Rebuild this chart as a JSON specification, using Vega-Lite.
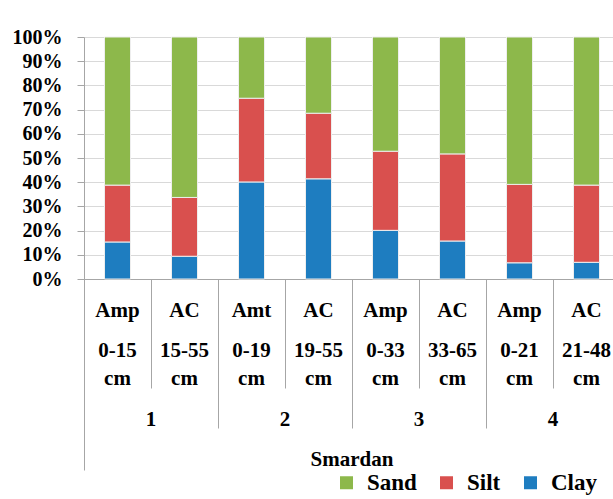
{
  "$schema": "https://vega.github.io/schema/vega-lite/v6.json",
  "width": 529,
  "height": 242,
  "autosize": {"type": "none"},
  "padding": {"left": 84, "top": 37, "right": 0, "bottom": 220},
  "background": "white",
  "config": {
    "view": {"stroke": null},
    "font": "'Liberation Serif', 'Times New Roman', serif",
    "axis": {"labelFont": "'Liberation Serif', 'Times New Roman', serif"},
    "legend": {"labelFont": "'Liberation Serif', 'Times New Roman', serif"}
  },
  "data": {
    "values": [
      {"site": "Smardan", "sample": "1 Amp 0-15", "profile": "1", "horizon": "Amp", "depth": "0-15", "fraction": "Clay", "grain_mm": 0.002, "value": 15.3},
      {"site": "Smardan", "sample": "1 Amp 0-15", "profile": "1", "horizon": "Amp", "depth": "0-15", "fraction": "Silt", "grain_mm": 0.05, "value": 23.5},
      {"site": "Smardan", "sample": "1 Amp 0-15", "profile": "1", "horizon": "Amp", "depth": "0-15", "fraction": "Sand", "grain_mm": 2, "value": 61.2},
      {"site": "Smardan", "sample": "1 AC 15-55", "profile": "1", "horizon": "AC", "depth": "15-55", "fraction": "Clay", "grain_mm": 0.002, "value": 9.4},
      {"site": "Smardan", "sample": "1 AC 15-55", "profile": "1", "horizon": "AC", "depth": "15-55", "fraction": "Silt", "grain_mm": 0.05, "value": 24.3},
      {"site": "Smardan", "sample": "1 AC 15-55", "profile": "1", "horizon": "AC", "depth": "15-55", "fraction": "Sand", "grain_mm": 2, "value": 66.3},
      {"site": "Smardan", "sample": "2 Amt 0-19", "profile": "2", "horizon": "Amt", "depth": "0-19", "fraction": "Clay", "grain_mm": 0.002, "value": 40.1},
      {"site": "Smardan", "sample": "2 Amt 0-19", "profile": "2", "horizon": "Amt", "depth": "0-19", "fraction": "Silt", "grain_mm": 0.05, "value": 34.6},
      {"site": "Smardan", "sample": "2 Amt 0-19", "profile": "2", "horizon": "Amt", "depth": "0-19", "fraction": "Sand", "grain_mm": 2, "value": 25.3},
      {"site": "Smardan", "sample": "2 AC 19-55", "profile": "2", "horizon": "AC", "depth": "19-55", "fraction": "Clay", "grain_mm": 0.002, "value": 41.4},
      {"site": "Smardan", "sample": "2 AC 19-55", "profile": "2", "horizon": "AC", "depth": "19-55", "fraction": "Silt", "grain_mm": 0.05, "value": 27.1},
      {"site": "Smardan", "sample": "2 AC 19-55", "profile": "2", "horizon": "AC", "depth": "19-55", "fraction": "Sand", "grain_mm": 2, "value": 31.5},
      {"site": "Smardan", "sample": "3 Amp 0-33", "profile": "3", "horizon": "Amp", "depth": "0-33", "fraction": "Clay", "grain_mm": 0.002, "value": 20.1},
      {"site": "Smardan", "sample": "3 Amp 0-33", "profile": "3", "horizon": "Amp", "depth": "0-33", "fraction": "Silt", "grain_mm": 0.05, "value": 32.7},
      {"site": "Smardan", "sample": "3 Amp 0-33", "profile": "3", "horizon": "Amp", "depth": "0-33", "fraction": "Sand", "grain_mm": 2, "value": 47.2},
      {"site": "Smardan", "sample": "3 AC 33-65", "profile": "3", "horizon": "AC", "depth": "33-65", "fraction": "Clay", "grain_mm": 0.002, "value": 15.7},
      {"site": "Smardan", "sample": "3 AC 33-65", "profile": "3", "horizon": "AC", "depth": "33-65", "fraction": "Silt", "grain_mm": 0.05, "value": 36.0},
      {"site": "Smardan", "sample": "3 AC 33-65", "profile": "3", "horizon": "AC", "depth": "33-65", "fraction": "Sand", "grain_mm": 2, "value": 48.3},
      {"site": "Smardan", "sample": "4 Amp 0-21", "profile": "4", "horizon": "Amp", "depth": "0-21", "fraction": "Clay", "grain_mm": 0.002, "value": 6.7},
      {"site": "Smardan", "sample": "4 Amp 0-21", "profile": "4", "horizon": "Amp", "depth": "0-21", "fraction": "Silt", "grain_mm": 0.05, "value": 32.4},
      {"site": "Smardan", "sample": "4 Amp 0-21", "profile": "4", "horizon": "Amp", "depth": "0-21", "fraction": "Sand", "grain_mm": 2, "value": 60.9},
      {"site": "Smardan", "sample": "4 AC 21-48", "profile": "4", "horizon": "AC", "depth": "21-48", "fraction": "Clay", "grain_mm": 0.002, "value": 6.9},
      {"site": "Smardan", "sample": "4 AC 21-48", "profile": "4", "horizon": "AC", "depth": "21-48", "fraction": "Silt", "grain_mm": 0.05, "value": 31.9},
      {"site": "Smardan", "sample": "4 AC 21-48", "profile": "4", "horizon": "AC", "depth": "21-48", "fraction": "Sand", "grain_mm": 2, "value": 61.2}
    ]
  },
  "layer": [
    {
      "mark": {"type": "bar", "size": 26, "stroke": "#eeeeee", "strokeWidth": 1},
      "encoding": {
        "x": {
          "field": "sample",
          "type": "nominal",
          "sort": null,
          "scale": {"type": "band", "range": [0, 536], "paddingInner": 0, "paddingOuter": 0},
          "axis": {
            "orient": "bottom",
            "title": null,
            "domain": true,
            "domainColor": "#a6a6a6",
            "grid": false,
            "bandPosition": 0,
            "ticks": true,
            "tickSize": 109,
            "tickColor": "#a6a6a6",
            "labelPadding": -89,
            "labelExpr": "split(datum.value, ' ')[1]",
            "labelFontSize": 21,
            "labelFontWeight": "bold",
            "labelColor": "black",
            "labelBaseline": "top",
            "labelAngle": 0,
            "labelOverlap": false,
            "labelBound": false
          }
        },
        "y": {
          "field": "value",
          "type": "quantitative",
          "stack": "normalize",
          "axis": {
            "title": null,
            "format": ".0%",
            "values": [0, 0.1, 0.2, 0.3, 0.4, 0.5, 0.6, 0.7, 0.8, 0.9, 1],
            "tickSize": 7,
            "tickColor": "#a6a6a6",
            "domainColor": "#a6a6a6",
            "gridColor": "#d9d9d9",
            "labelPadding": 15,
            "labelFontSize": 20,
            "labelFontWeight": "bold",
            "labelColor": "black"
          }
        },
        "order": {"field": "grain_mm", "type": "quantitative", "sort": "ascending"},
        "color": {
          "field": "fraction",
          "type": "nominal",
          "scale": {"domain": ["Sand", "Silt", "Clay"], "range": ["#8db84b", "#d9504e", "#1e7dc0"]},
          "legend": {
            "title": null,
            "orient": "none",
            "direction": "horizontal",
            "legendX": 251,
            "legendY": 434,
            "padding": 0,
            "symbolType": "square",
            "symbolSize": 169,
            "symbolStrokeWidth": 0,
            "labelFontSize": 23,
            "labelFontWeight": "bold",
            "labelColor": "black",
            "labelOffset": 9,
            "columnPadding": 18
          }
        }
      }
    },
    {
      "mark": {"type": "bar", "opacity": 0},
      "encoding": {
        "x": {
          "field": "sample",
          "type": "nominal",
          "sort": null,
          "scale": {"type": "band", "range": [0, 536], "paddingInner": 0, "paddingOuter": 0},
          "axis": {
            "orient": "bottom",
            "title": null,
            "domain": false,
            "grid": false,
            "ticks": false,
            "tickSize": 0,
            "labelPadding": 60,
            "labelExpr": "[split(datum.value, ' ')[2], 'cm']",
            "labelFontSize": 21,
            "labelFontWeight": "bold",
            "labelColor": "black",
            "labelBaseline": "top",
            "labelLineHeight": 28,
            "labelAngle": 0,
            "labelOverlap": false,
            "labelBound": false
          }
        }
      }
    },
    {
      "mark": {"type": "bar", "opacity": 0},
      "encoding": {
        "x": {
          "field": "profile",
          "type": "nominal",
          "scale": {"type": "band", "range": [0, 536], "paddingInner": 0, "paddingOuter": 0},
          "axis": {
            "orient": "bottom",
            "title": null,
            "domain": false,
            "grid": false,
            "bandPosition": 0,
            "ticks": true,
            "tickSize": 149,
            "tickColor": "#a6a6a6",
            "labelPadding": -20,
            "labelBaseline": "top",
            "labelFontSize": 21,
            "labelFontWeight": "bold",
            "labelColor": "black",
            "labelAngle": 0,
            "labelOverlap": false
          }
        }
      }
    },
    {
      "mark": {"type": "bar", "opacity": 0},
      "encoding": {
        "x": {
          "field": "site",
          "type": "nominal",
          "scale": {"type": "band", "range": [0, 536], "paddingInner": 0, "paddingOuter": 0},
          "axis": {
            "orient": "bottom",
            "title": null,
            "domain": false,
            "grid": false,
            "bandPosition": 0,
            "ticks": true,
            "tickSize": 191,
            "tickColor": "#a6a6a6",
            "labelPadding": -22,
            "labelBaseline": "top",
            "labelFontSize": 21,
            "labelFontWeight": "bold",
            "labelColor": "black",
            "labelAngle": 0,
            "labelOverlap": false
          }
        }
      }
    }
  ],
  "resolve": {"scale": {"x": "independent"}, "axis": {"x": "independent"}}
}
